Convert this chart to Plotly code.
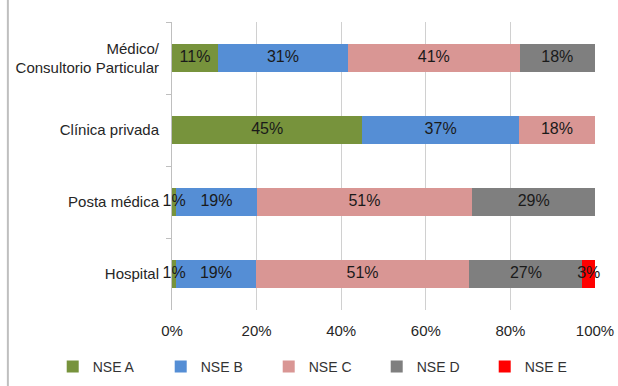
import plotly.graph_objects as go

# Lugar de atención (de arriba hacia abajo)
categorias = ["Médico/<br>Consultorio Particular", "Clínica privada", "Posta médica", "Hospital"]

# Porcentaje por nivel socioeconómico
nse_a = [11, 45, 1, 1]
nse_b = [31, 37, 19, 19]
nse_c = [41, 18, 51, 51]
nse_d = [18, 0, 29, 27]
nse_e = [0, 0, 0, 3]

series = [
    ("NSE A", nse_a, "#77933C"),
    ("NSE B", nse_b, "#558ED5"),
    ("NSE C", nse_c, "#D99694"),
    ("NSE D", nse_d, "#7F7F7F"),
    ("NSE E", nse_e, "#FF0000"),
]

fuente = "Liberation Sans, Arial, sans-serif"

fig = go.Figure()
for nombre, valores, color in series:
    fig.add_trace(go.Bar(
        y=categorias,
        x=valores,
        name=nombre,
        orientation="h",
        marker=dict(color=color, line=dict(width=0)),
        width=0.4,
        hoverinfo="skip",
    ))

# Etiquetas de porcentaje sobre cada segmento (encima de todas las barras,
# para que las de segmentos angostos no queden tapadas)
lx, ly, lt = [], [], []
for i, cat in enumerate(categorias):
    vals = [s[1][i] for s in series]
    total = sum(vals)
    acum = 0.0
    for v in vals:
        if v:
            lx.append((acum + v / 2) * 100 / total)
            ly.append(cat)
            lt.append(f"{v}%")
        acum += v
fig.add_trace(go.Scatter(
    x=lx, y=ly, text=lt, mode="text",
    textposition="middle center",
    textfont=dict(family=fuente, size=16, color="#1a1a1a"),
    cliponaxis=False,
    showlegend=False,
    hoverinfo="skip",
))

# Borde izquierdo del área del gráfico
fig.add_shape(type="line", xref="paper", yref="paper",
              x0=-0.388, x1=-0.388, y0=-0.27, y1=1.08,
              line=dict(color="#BFBFBF", width=2))

fig.update_layout(
    barmode="stack",
    barnorm="percent",
    width=618,
    height=386,
    margin=dict(l=172, r=23, t=22, b=76, autoexpand=False),
    paper_bgcolor="white",
    plot_bgcolor="white",
    font=dict(family=fuente, size=15, color="#262626"),
    showlegend=True,
    legend=dict(
        orientation="h",
        x=-0.282,
        xanchor="left",
        y=-0.198,
        yanchor="middle",
        traceorder="normal",
        entrywidth=63,
        itemwidth=30,
        font=dict(family=fuente, size=14, color="#333333"),
    ),
    xaxis=dict(
        range=[0, 100],
        tickvals=[0, 20, 40, 60, 80, 100],
        ticktext=["0%", "20%", "40%", "60%", "80%", "100%"],
        showgrid=True,
        gridcolor="#D0D0D0",
        gridwidth=1,
        zeroline=False,
        showline=False,
        ticks="",
        ticklabelstandoff=10,
        tickfont=dict(family=fuente, size=15, color="#262626"),
    ),
    yaxis=dict(
        autorange="reversed",
        showline=True,
        linecolor="#BFBFBF",
        linewidth=1,
        ticks="outside",
        tickson="boundaries",
        ticklen=5,
        tickcolor="#BFBFBF",
        ticklabelstandoff=9,
        showgrid=False,
        tickfont=dict(family=fuente, size=15, color="#262626"),
    ),
)

fig.write_html("out.html")
